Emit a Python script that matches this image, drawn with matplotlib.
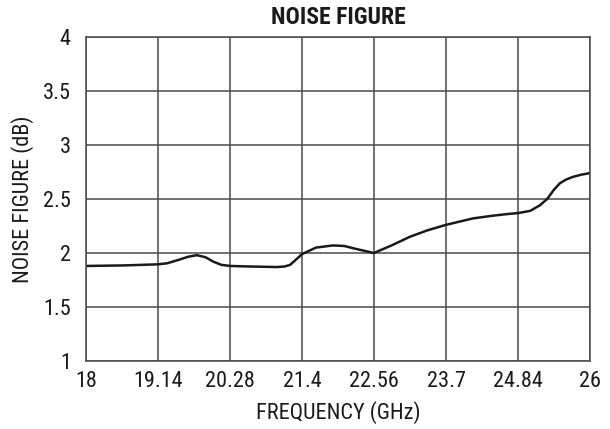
import matplotlib.pyplot as plt

# noise figure
freq_ghz = [18.0, 18.6, 19.14, 19.29, 19.49, 19.62, 19.76, 19.9, 20.02, 20.15,
            20.29, 20.6, 21.03, 21.15, 21.24, 21.43, 21.65, 21.92, 22.1, 22.27,
            22.57, 22.85, 23.14, 23.42, 23.71, 24.14, 24.45, 24.68, 24.86, 25.05,
            25.2, 25.32, 25.42, 25.52, 25.62, 25.73, 25.86, 26.0]
nf_db = [1.88, 1.885, 1.895, 1.905, 1.94, 1.965, 1.98, 1.96, 1.92, 1.89,
         1.88, 1.875, 1.87, 1.875, 1.89, 1.99, 2.05, 2.07, 2.065, 2.04,
         2.0, 2.07, 2.15, 2.21, 2.26, 2.32, 2.345, 2.36, 2.37, 2.39,
         2.44, 2.5, 2.58, 2.645, 2.68, 2.705, 2.725, 2.74]

x_ticks = [18 + k * 8 / 7 for k in range(8)]
x_labels = ["18", "19.14", "20.28", "21.4", "22.56", "23.7", "24.84", "26"]
y_ticks = [1, 1.5, 2, 2.5, 3, 3.5, 4]
y_labels = ["1", "1.5", "2", "2.5", "3", "3.5", "4"]

plt.rcParams['font.family'] = ['Roboto Condensed', 'DejaVu Sans']

grid_col = "#4a4a4a"
text_col = "#1a1a1a"

fig = plt.figure(figsize=(6.1, 4.29), dpi=100)
ax = fig.add_axes([86 / 610, 1 - 361 / 429, 504 / 610, 324 / 429])

ax.plot(freq_ghz, nf_db, color=text_col, lw=1.8)

ax.set_xlim(18, 26)
ax.set_ylim(1, 4)
ax.set_xticks(x_ticks)
ax.set_xticklabels(x_labels)
ax.set_yticks(y_ticks)
ax.set_yticklabels(y_labels)
ax.tick_params(length=0, labelsize=16, colors=text_col)
ax.tick_params(axis='x', pad=7)
ax.tick_params(axis='y', pad=11)
ax.grid(True, color=grid_col, lw=1.1)
for s in ax.spines.values():
    s.set_color(grid_col)
    s.set_linewidth(1.1)

ax.text(0.5, (361 - 17) / 324, "NOISE FIGURE", transform=ax.transAxes,
        ha="center", va="center", fontsize=17, fontweight="bold", color=text_col)
ax.set_xlabel("FREQUENCY (GHz)", fontsize=16, color=text_col)
ax.set_ylabel("NOISE FIGURE (dB)", fontsize=16, color=text_col)
ax.xaxis.set_label_coords(0.5, (361 - 413) / 324)
ax.xaxis.label.set_va("center")
ax.yaxis.set_label_coords((23 - 86) / 504, 0.5)
ax.yaxis.label.set_va("center")

fig.savefig("out.png", dpi=100)
